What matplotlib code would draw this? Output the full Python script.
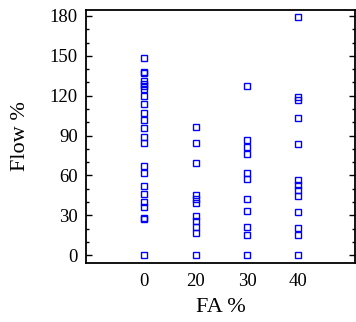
import matplotlib.pyplot as plt
from matplotlib.ticker import MultipleLocator

plt.rcParams['font.family'] = ['Liberation Serif', 'DejaVu Serif']

categories = ['0', '20', '30', '40']

flow_fa0 = [148, 138, 137, 131, 129, 127, 125, 120, 113.5, 107, 102, 96,
            89, 84.5, 67, 62, 52, 46, 40, 36, 28, 27.5, 0]
flow_fa20 = [96.5, 84.5, 69, 45, 42, 39, 29.5, 25.5, 21, 17, 0]
flow_fa30 = [127, 86.5, 81.5, 76, 62, 57.5, 42, 33.5, 21, 15, 0]
flow_fa40 = [179.5, 119, 116.5, 103.5, 83.5, 56.5, 52.5, 49, 44.5, 32.5,
             20.5, 15, 0]

groups = [flow_fa0, flow_fa20, flow_fa30, flow_fa40]

fig = plt.figure(figsize=(3.56, 3.22), dpi=100)
ax = fig.add_axes([0.2416, 0.183, 0.7554, 0.786])

for i, vals in enumerate(groups):
    ax.plot([i + 1] * len(vals), vals, linestyle='none', marker='s',
            markersize=4.3, markerfacecolor='none', markeredgecolor='#0000ff',
            markeredgewidth=1.0)

ax.set_xlim(-0.13, 5.1)
ax.set_ylim(-6, 184.5)
ax.set_xticks(range(1, len(categories) + 1))
ax.set_xticklabels(categories)
ax.tick_params(axis='x', length=0, labelsize=13.5, pad=7)

# ticks point inward on both vertical spines
ax.yaxis.set_major_locator(MultipleLocator(30))
ax.yaxis.set_minor_locator(MultipleLocator(10))
ax.tick_params(axis='y', which='major', direction='in', length=4, width=1,
               labelsize=13.5, pad=6, right=True)
ax.tick_params(axis='y', which='minor', direction='in', length=2, width=1,
               right=True)

for s in ax.spines.values():
    s.set_linewidth(1.3)

ax.set_xlabel('FA %', fontsize=16, labelpad=6)
ax.set_ylabel('Flow %', fontsize=16, labelpad=14)

fig.savefig('out.png', dpi=100)
